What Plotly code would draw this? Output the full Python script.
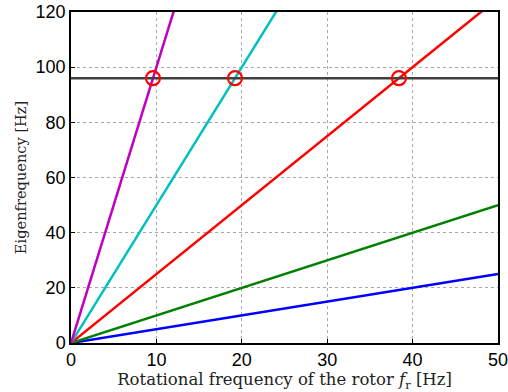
import plotly.graph_objects as go

fr = [0, 50]
multipliers = [0.5, 1, 2.5, 5, 10]
colors = ["#0000ff", "#008000", "#ff0000", "#00bfbf", "#bf00bf"]
eigen = 96
cross_x = [9.6, 19.2, 38.4]
cross_y = [96, 96, 96]
xticks = [0, 10, 20, 30, 40, 50]
yticks = [0, 20, 40, 60, 80, 100, 120]

fig = go.Figure()
for m, c in zip(multipliers, colors):
    fig.add_trace(go.Scatter(x=fr, y=[v * m for v in fr], mode="lines",
                             line=dict(color=c, width=2.5), showlegend=False))
fig.add_trace(go.Scatter(x=fr, y=[eigen, eigen], mode="lines",
                         line=dict(color="#404040", width=2.5), showlegend=False))
fig.add_trace(go.Scatter(x=cross_x, y=cross_y, mode="markers",
                         marker=dict(symbol="circle-open", size=14, color="#ff0000",
                                     line=dict(width=2.2, color="#ff0000")),
                         showlegend=False))

axis_common = dict(showline=True, linecolor="black", linewidth=1.5, mirror=True,
                   ticks="inside", ticklen=4, tickcolor="black",
                   showgrid=True, gridcolor="#a8a8a8", griddash="dot", gridwidth=1,
                   zeroline=False, automargin=False, ticklabeloverflow="allow",
                   tickfont=dict(family="Liberation Sans, Arial", size=18, color="black"))

fig.update_layout(
    width=508, height=392,
    margin=dict(l=71, r=10, t=12, b=49),
    plot_bgcolor="white", paper_bgcolor="white",
    xaxis=dict(range=[0, 50], tickvals=xticks, **axis_common,
               title=dict(text="Rotational frequency of the rotor <i>f</i><sub>r</sub> [Hz]",
                          font=dict(family="DejaVu Serif, Liberation Serif", size=16.5, color="#222"),
                          standoff=4)),
    yaxis=dict(range=[0, 120], tickvals=yticks, **axis_common,
               title=dict(text="Eigenfrequency [Hz]",
                          font=dict(family="DejaVu Serif, Liberation Serif", size=14.6, color="#222"),
                          standoff=5)),
)
fig.write_html("out.html", config={"displayModeBar": False},
               post_script="document.body.style.margin='0';document.body.style.overflow='hidden';")
